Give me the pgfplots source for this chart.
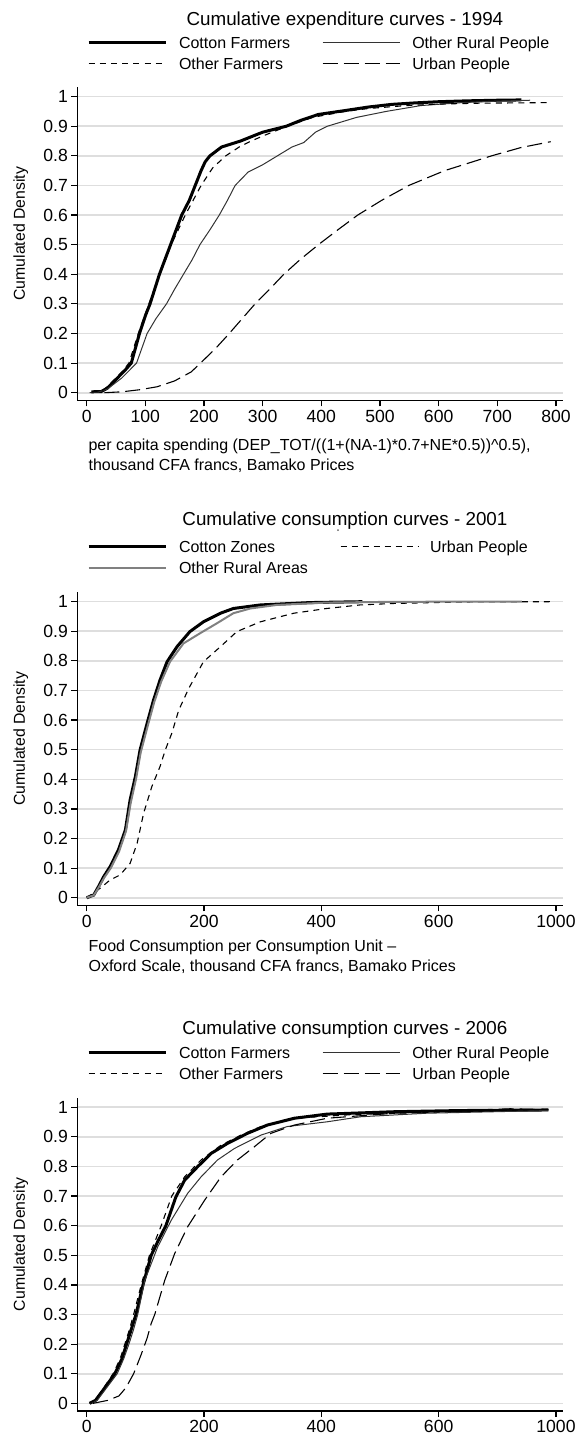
\documentclass[border=0pt]{standalone}
\usepackage{fontspec}
\setmainfont{Liberation Sans}
\usepackage{pgfplots}
\pgfplotsset{compat=1.18}
\pgfplotsset{
  statapanel/.style={
    scale only axis, width=242.85pt, height=156.6pt,
    xmin=-16, xmax=812, ymin=-0.026, ymax=1.032,
    axis x line*=bottom, axis y line*=left,
    axis line style={black, line width=0.6pt},
    ytick={0,0.1,0.2,0.3,0.4,0.5,0.6,0.7,0.8,0.9,1},
    yticklabels={0,0.1,0.2,0.3,0.4,0.5,0.6,0.7,0.8,0.9,1},
    ymajorgrids, grid style={line width=0.8pt, color=black!13},
    tick align=outside, major tick length=3pt,
    tick style={black, line width=0.6pt},
    ticklabel style={font=\fontsize{8.8}{10}\selectfont},
    yticklabel style={inner sep=1.5pt},
    xticklabel style={inner sep=1.5pt},
    ylabel={Cumulated Density},
    ylabel style={at={(axis description cs:-0.1077,0.532)}, anchor=base, rotate=0,
      font=\fontsize{7.9}{9}\selectfont, inner sep=0pt},
    title style={at={(axis description cs:0.551,1.1731)}, anchor=base,
      font=\fontsize{9.4}{11}\selectfont, inner sep=0pt},
    xlabel style={at={(axis description cs:0.0224,-0.1229)}, anchor=north west,
      align=left, font=\fontsize{8}{10}\selectfont, inner sep=0pt},
    legend columns=2, legend cell align=left,
    legend style={at={(axis description cs:0.02,1.1651)}, anchor=north west,
      draw=none, fill=none, inner sep=0pt, outer sep=0pt,
      font=\fontsize{8}{9.6}\selectfont,
      nodes={inner sep=0pt, text height=6pt, text depth=2pt},
      row sep=2.45pt,
      /tikz/every odd column/.append style={column sep=5.75pt},
      /tikz/every even column/.append style={column sep=16pt}},
    legend image code/.code={\draw[#1] (0pt,0.9pt) -- (38.75pt,0.9pt);},
  },
  cotton/.style={black, line width=1.5pt},
  otherrural/.style={black!80, line width=0.5pt},
  otherfarm/.style={black, line width=0.55pt, dash pattern=on 3pt off 2.6pt},
  urban/.style={black, line width=0.55pt, dash pattern=on 7.5pt off 3pt},
  urbanshort/.style={black, line width=0.55pt, dash pattern=on 3pt off 2.5pt},
  ruralgray/.style={black!50, line width=1pt},
}
\begin{document}
\begin{tikzpicture}
\useasboundingbox (0pt,0pt) rectangle (288pt,-717pt);

% ---------------- 1994 ----------------
\begin{axis}[statapanel, at={(38.65pt,-200.2pt)}, anchor=south west,
  title={Cumulative expenditure curves - 1994},
  title style={at={(axis description cs:0.551,1.1571)}},
  legend style={at={(axis description cs:0.02,1.1619)}},
  legend style={row sep=2.3pt},
  xtick={0,100,200,300,400,500,600,700,800},
  xticklabels={0,100,200,300,400,500,600,700,800},
  xlabel={per capita spending (DEP\_TOT/((1+(NA-1)*0.7+NE*0.5))\textasciicircum 0.5),\\thousand CFA francs, Bamako Prices}]
\addplot[cotton] coordinates {(8,0.003)(25,0.004)(35,0.015)(50,0.045)(65,0.075)(76,0.1)(90,0.2)(100,0.26)(108,0.3)(124,0.4)(143,0.5)(162,0.6)(175,0.65)(185,0.7)(195,0.75)(202,0.78)(210,0.8)(230,0.83)(262,0.85)(300,0.88)(340,0.9)(365,0.92)(395,0.94)(440,0.953)(480,0.965)(520,0.974)(560,0.979)(600,0.983)(650,0.986)(700,0.988)(741,0.989)};
\addlegendentry{Cotton Farmers}
\addplot[otherrural] coordinates {(5,0)(20,0.002)(35,0.012)(60,0.05)(85,0.1)(103,0.2)(118,0.25)(136,0.3)(150,0.35)(165,0.4)(180,0.45)(193,0.5)(210,0.55)(226,0.6)(240,0.65)(253,0.7)(275,0.745)(300,0.77)(325,0.8)(350,0.83)(370,0.845)(390,0.88)(410,0.9)(460,0.93)(510,0.95)(570,0.97)(640,0.98)(700,0.985)(756,0.988)};
\addlegendentry{Other Rural People}
\addplot[otherfarm] coordinates {(8,0.002)(25,0.005)(35,0.02)(50,0.05)(60,0.07)(72,0.1)(88,0.2)(106,0.3)(125,0.4)(144,0.5)(168,0.6)(195,0.7)(215,0.76)(237,0.8)(260,0.83)(280,0.85)(310,0.875)(342,0.9)(385,0.93)(440,0.95)(480,0.96)(545,0.97)(600,0.975)(668,0.978)(730,0.979)(790,0.98)};
\addlegendentry{Other Farmers}
\addplot[urban] coordinates {(30,0)(60,0.003)(90,0.01)(120,0.02)(150,0.04)(178,0.07)(194,0.1)(220,0.15)(243,0.2)(265,0.25)(287,0.3)(312,0.35)(336,0.4)(364,0.45)(395,0.5)(428,0.55)(462,0.6)(503,0.65)(549,0.7)(610,0.75)(690,0.8)(740,0.828)(791,0.848)};
\addlegendentry{Urban People}
\end{axis}

% ---------------- 2001 ----------------
\begin{axis}[statapanel, at={(38.65pt,-452.7pt)}, anchor=south west,
  title={Cumulative consumption curves - 2001},
  xtick={0,200,400,600,800},
  xticklabels={0,200,400,600,1000},
  xlabel style={at={(axis description cs:0.0224,-0.1086)}},
  xlabel={Food Consumption per Consumption Unit --\\Oxford Scale, thousand CFA francs, Bamako Prices}]
\addplot[cotton] coordinates {(0,0)(12,0.009)(20,0.037)(29,0.071)(40,0.105)(54,0.161)(66,0.229)(74,0.33)(83,0.409)(91,0.499)(103,0.589)(114,0.668)(125,0.735)(137,0.797)(154,0.848)(176,0.899)(199,0.932)(228,0.961)(250,0.977)(296,0.989)(381,0.997)(470,1.0)};
\addlegendentry{Cotton Zones}
\addplot[urbanshort] coordinates {(0,0)(23,0.032)(40,0.06)(57,0.077)(74,0.116)(86,0.184)(97,0.285)(111,0.375)(125,0.443)(134,0.499)(145,0.555)(157,0.634)(174,0.707)(199,0.797)(228,0.848)(256,0.899)(296,0.932)(353,0.961)(409,0.977)(466,0.989)(523,0.994)(637,0.999)(796,1.0)};
\addlegendentry{Urban People}
\addplot[ruralgray] coordinates {(0,0)(12,0.008)(20,0.033)(30,0.068)(41,0.1)(55,0.155)(67,0.225)(75,0.32)(84,0.4)(92,0.49)(104,0.58)(115,0.66)(127,0.73)(142,0.797)(165,0.859)(193,0.893)(222,0.927)(250,0.961)(279,0.977)(324,0.989)(409,0.997)(500,0.999)(600,1.0)(742,1.0)};
\addlegendentry{Other Rural Areas}
\end{axis}
\fill[black!60] (169pt,-265pt) circle (0.5pt);

% ---------------- 2006 ----------------
\begin{axis}[statapanel, at={(38.65pt,-705.5pt)}, anchor=south west,
  title={Cumulative consumption curves - 2006},
  title style={at={(axis description cs:0.551,1.1638)}},
  xtick={0,200,400,600,800},
  xticklabels={0,200,400,600,1000}]
\addplot[cotton] coordinates {(5,0)(15,0.01)(30,0.05)(48,0.1)(60,0.15)(68,0.2)(76,0.25)(84,0.3)(96,0.4)(110,0.5)(122,0.55)(135,0.6)(152,0.697)(167,0.754)(189,0.799)(212,0.844)(240,0.878)(274,0.912)(308,0.94)(354,0.963)(410,0.977)(524,0.985)(637,0.989)(787,0.991)};
\addlegendentry{Cotton Farmers}
\addplot[otherrural] coordinates {(5,0)(18,0.01)(33,0.05)(52,0.1)(63,0.15)(72,0.2)(80,0.25)(87,0.3)(99,0.415)(121,0.528)(144,0.618)(172,0.709)(195,0.765)(223,0.822)(252,0.861)(297,0.906)(342,0.935)(410,0.951)(467,0.968)(580,0.98)(787,0.989)};
\addlegendentry{Other Rural People}
\addplot[otherfarm] coordinates {(5,0)(15,0.012)(30,0.055)(45,0.1)(57,0.15)(65,0.2)(73,0.25)(80,0.3)(93,0.4)(107,0.5)(127,0.6)(145,0.7)(167,0.765)(195,0.822)(229,0.872)(263,0.906)(297,0.935)(354,0.963)(450,0.975)(600,0.984)(787,0.993)};
\addlegendentry{Other Farmers}
\addplot[urban] coordinates {(11,0)(36,0.01)(55,0.025)(67,0.053)(80,0.1)(92,0.16)(103,0.22)(110,0.27)(116,0.3)(133,0.415)(150,0.506)(172,0.596)(201,0.686)(229,0.765)(257,0.822)(286,0.867)(314,0.912)(354,0.94)(410,0.963)(524,0.98)(650,0.99)(722,0.995)(787,0.992)};
\addlegendentry{Urban People}
\end{axis}
\end{tikzpicture}
\end{document}
